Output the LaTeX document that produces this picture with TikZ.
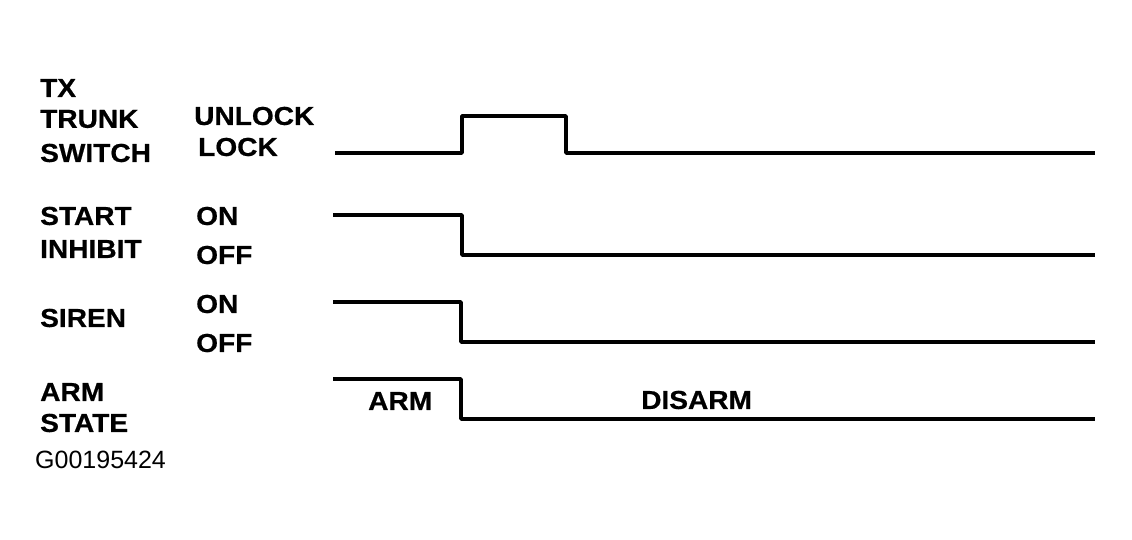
\documentclass[tikz,border=0pt]{standalone}
\usepackage{fontspec}
\setmainfont{Liberation Sans}
\newfontfamily\widebold[FakeStretch=1.08,FakeBold=0.6]{Liberation Sans Bold}
\begin{document}
\begin{tikzpicture}[x=1pt,y=-1pt,
  lbl/.style={anchor=west,inner sep=0pt,font=\fontsize{26}{26}\widebold},
  code/.style={anchor=west,inner sep=0pt,font=\fontsize{25}{25}\selectfont},
  trace/.style={line width=3.5pt,line join=round,line cap=butt}]
\useasboundingbox (0,0) rectangle (1132,540);
% left labels
\node[lbl] (tx) at (40,88) {TX};
\node[lbl] (trunk) at (40,119) {TRUNK};
\node[lbl] (switch) at (40,153) {SWITCH};
\node[lbl] (start) at (40,216) {START};
\node[lbl] (inhibit) at (40,249) {INHIBIT};
\node[lbl] (siren) at (40,318) {SIREN};
\node[lbl] (arm) at (40,392) {ARM};
\node[lbl] (state) at (40,423) {STATE};
\node[code] (gid) at (35,460) {G00195424};
% state labels
\node[lbl] (unlock) at (194,116) {UNLOCK};
\node[lbl] (lock) at (198,147) {LOCK};
\node[lbl] (on1) at (196,216) {ON};
\node[lbl] (off1) at (196,255) {OFF};
\node[lbl] (on2) at (196,304) {ON};
\node[lbl] (off2) at (196,343) {OFF};
\node[lbl] (armlbl) at (368,401) {ARM};
\node[lbl] (disarm) at (641,400) {DISARM};
% traces
\draw[trace] (335,153) -- (462,153) -- (462,116) -- (566,116) -- (566,153) -- (1095,153);
\draw[trace] (333,215) -- (462,215) -- (462,255) -- (1095,255);
\draw[trace] (333,302) -- (461,302) -- (461,342) -- (1095,342);
\draw[trace] (333,379) -- (461,379) -- (461,419) -- (1095,419);
\end{tikzpicture}
\end{document}
